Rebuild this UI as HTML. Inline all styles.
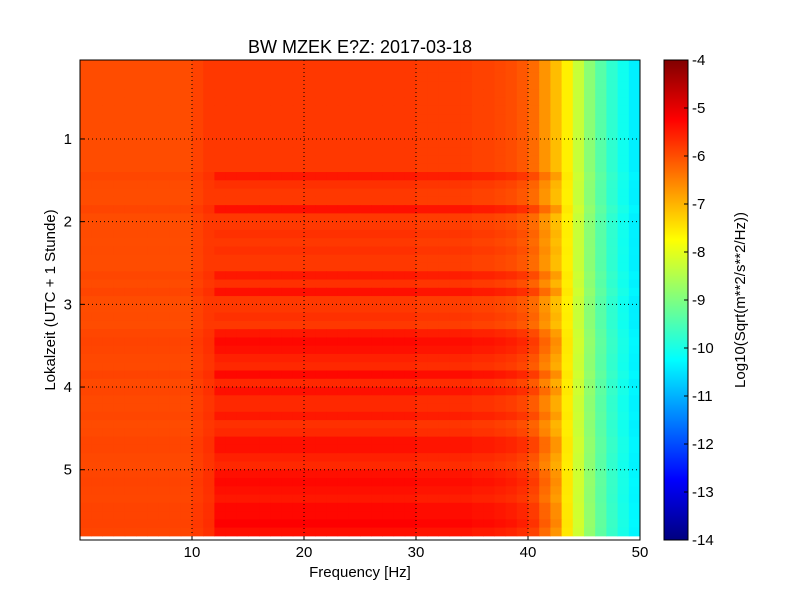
<!DOCTYPE html>
<html><head><meta charset="utf-8">
<style>
body{margin:0;background:#fff;}
svg{display:block;font-family:"Liberation Sans",sans-serif;}
</style></head>
<body>
<svg id="chart" width="800" height="600" viewBox="0 0 800 600">
<rect width="800" height="600" fill="#fff"/>
<text x="360" y="53" text-anchor="middle" font-size="18">BW MZEK E?Z: 2017-03-18</text>
<g id="cells"></g>
<g id="grid"></g>
<rect x="80" y="60" width="560" height="480" fill="none" stroke="#000" stroke-width="1"/>
<g id="axes" font-size="15"></g>
<text x="360" y="577" text-anchor="middle" font-size="15">Frequency [Hz]</text>
<text transform="translate(55,300) rotate(-90)" text-anchor="middle" font-size="15">Lokalzeit (UTC + 1 Stunde)</text>
<g id="cbar"></g>
<text transform="translate(745,300) rotate(-90)" text-anchor="middle" font-size="15">Log10(Sqrt(m**2/s**2/Hz))</text>
</svg>
<script>
// frequency base level (1 Hz bins, 0..49)
const freqLevels = [-6.0,-6.0,-6.0,-6.0,-6.0,-6.0,-6.0,-6.0,-6.0,-6.0,
 -5.9,-5.8,-5.8,-5.8,-5.8,-5.8,-5.8,-5.8,-5.8,-5.8,
 -5.8,-5.8,-5.8,-5.8,-5.8,-5.8,-5.8,-5.8,-5.8,-5.8,
 -5.85,-5.85,-5.85,-5.85,-5.85,-5.9,-5.9,-5.95,-6.0,-6.1,
 -6.3,-6.7,-7.1,-7.6,-8.3,-8.9,-9.4,-9.8,-10.1,-10.4];
// per-row darkening (0.1 h rows starting at 0.0 h)
const rowBoost = [0,0,0,0,0,0,0,0,0,0,
 0,0,0,0,0.4,0.1,0,0,0.5,0,
 0,0.1,0,0.1,0,0,0.4,0.1,0.5,0,
 0,0.1,0,0.4,0.6,0.5,0.3,0.2,0.6,0.2,
 0.5,0.2,0.2,0.4,0.1,0.2,0.5,0.5,0.3,0.2,
 0.5,0.6,0.5,0.4,0.6,0.6,0.7,0.5];
const xTicks = [10,20,30,40,50];
const yTicks = [1,2,3,4,5];
const cTicks = [-14,-13,-12,-11,-10,-9,-8,-7,-6,-5,-4];

const NS="http://www.w3.org/2000/svg";
const X0=80,X1=640,Y0=60,Y1=540,T0=0.045,T1=5.85;
const xs=f=>X0+(f/50)*(X1-X0);
const ys=t=>Y0+(t-T0)/(T1-T0)*(Y1-Y0);
const cs=v=>Y1-(v+14)/10*(Y1-Y0);
function jet(v){let t=(v+14)/10;t=Math.max(0,Math.min(1,t));
 const c=x=>Math.round(255*Math.max(0,Math.min(1,x)));
 const r=c(1.5-Math.abs(4*t-3)),g=c(1.5-Math.abs(4*t-2)),b=c(1.5-Math.abs(4*t-1));
 return `rgb(${r},${g},${b})`;}
function el(tag,attrs,parent){const e=document.createElementNS(NS,tag);for(const k in attrs)e.setAttribute(k,attrs[k]);parent.appendChild(e);return e;}

const cells=document.getElementById('cells');
for(let r=0;r<rowBoost.length;r++){
 const ta=Math.max(T0,r*0.1),tb=Math.min(T1,(r+1)*0.1);if(tb<=ta)continue;
 for(let f=0;f<freqLevels.length;f++){
  const w=(f>=12&&f<=42)?0.8:0.15;
  const v=freqLevels[f]+rowBoost[r]*w;
  const e=el('rect',{x:xs(f),y:ys(ta),width:xs(f+1)-xs(f)+0.5,height:ys(tb)-ys(ta)+0.5,fill:jet(v)},cells);
  
  
 }
}
const grid=document.getElementById('grid'),axes=document.getElementById('axes');
xTicks.forEach(t=>{const x=xs(t);
 if(t<50){const g=el('line',{x1:x,x2:x,y1:Y0,y2:Y1,stroke:'#000','stroke-dasharray':'1,3','stroke-width':1},grid);
 }
 el('line',{x1:x,x2:x,y1:Y1,y2:Y1-4,stroke:'#000'},axes);
 const l=el('text',{x:x,y:Y1+17,'text-anchor':'middle'},axes);l.textContent=t;
 });
yTicks.forEach(t=>{const y=ys(t);
 const g=el('line',{x1:X0,x2:X1,y1:y,y2:y,stroke:'#000','stroke-dasharray':'1,3','stroke-width':1},grid);
 
 el('line',{x1:X0,x2:X0+4,y1:y,y2:y,stroke:'#000'},axes);
 const l=el('text',{x:X0-8,y:y+5,'text-anchor':'end'},axes);l.textContent=t;
 });
const cb=document.getElementById('cbar');
for(let i=0;i<240;i++){const v=-14+i*10/240;
 el('rect',{x:664,y:cs(v+10/240),width:24,height:(Y1-Y0)/240+0.5,fill:jet(v)},cb);}
el('rect',{x:664,y:Y0,width:24,height:Y1-Y0,fill:'none',stroke:'#000'},cb);
cTicks.forEach(t=>{const y=cs(t);
 el('line',{x1:684,x2:688,y1:y,y2:y,stroke:'#000'},cb);
 const l=el('text',{x:692,y:y+5,'font-size':15},cb);l.textContent=t;
 });
</script>
</body></html>
